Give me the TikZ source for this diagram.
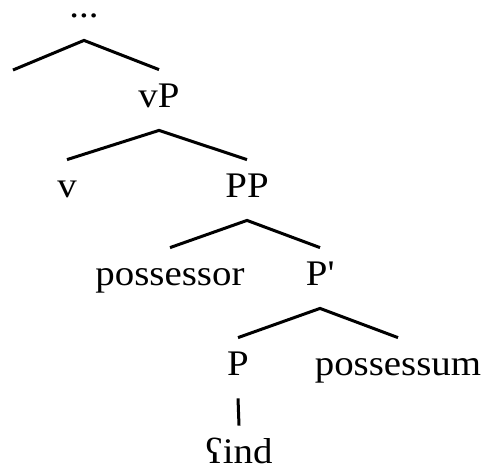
\documentclass[tikz,border=0pt]{standalone}
\usepackage{fontspec}
\setmainfont[FakeStretch=1.08]{Liberation Serif}

\begin{document}
\begin{tikzpicture}[x=0.5pt, y=-0.5pt,
        lbl/.style={anchor=base, inner xsep=2pt, inner ysep=6pt, text height=12.5pt, text depth=5.5pt, font=\fontsize{18}{22}\selectfont},
        branch/.style={line width=1.5pt}]
        \useasboundingbox (0,0) rectangle (490,468);

        % Upper part: ... over vP
        \node[lbl, text height=2pt] (top) at (84,17) {...};
        \coordinate (spec) at (13,70);
        \node[lbl] (vP) at (159,107) {vP};

        % vP splits into v and PP
        \node[lbl] (v) at (67,197) {v};
        \node[lbl] (PP) at (247,197) {PP};

        % PP: possessor and P'
        \node[lbl] (possessor) at (170,285) {possessor};
        \node[lbl] (Pbar) at (320,285) {P\textquotesingle};

        % P' splits into P and possessum
        \node[lbl] (P) at (238,375) {P};
        \node[lbl] (possessum) at (398,375) {possessum};
        \node[lbl] (ind) at (239,463) {ʕind};

        % Branches
        \draw[branch] (spec) -- (top.south) -- (vP.north);
        \draw[branch] (v.north) -- (vP.south) -- (PP.north);
        \draw[branch] (possessor.north) -- (PP.south) -- (Pbar.north);
        \draw[branch] (P.north) -- (Pbar.south) -- (possessum.north);
        \draw[branch] (P.south) -- (ind.north);
    \end{tikzpicture}
\end{document}
